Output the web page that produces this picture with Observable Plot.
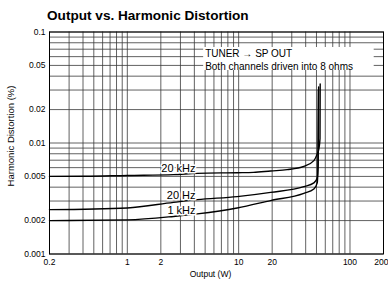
<!DOCTYPE html>
<html>
<head>
<meta charset="utf-8">
<script src="https://cdn.jsdelivr.net/npm/d3@7"></script>
<script src="https://cdn.jsdelivr.net/npm/@observablehq/plot@0.6"></script>
<style>
  html, body { margin: 0; padding: 0; background: #fff; }
  #title { font: bold 13.6px "Liberation Sans", Arial, sans-serif; height: 27px; box-sizing: border-box;
           padding-top: 8px; padding-left: 47px; line-height: 16px; overflow: visible;
           color: #000; white-space: nowrap; }
  svg { display: block; overflow: visible; }
</style>
</head>
<body>
<div id="title">Output vs. Harmonic Distortion</div>
<div id="chart"></div>
<script>
// ---- data ----
const titleText = "Output vs. Harmonic Distortion";
const xLabel = "Output (W)";
const yLabel = "Harmonic Distortion (%)";
const annotation = "TUNER \u2192 SP OUT\nBoth channels driven into 8 ohms";

const xTicks = [0.2, 0.5, 1, 2, 5, 10, 20, 50, 100, 200];
const xTickLabels = ["0.2", "0.5", "1", "2", "5", "10", "20", "50", "100", "200"];
const yTicks = [0.001, 0.002, 0.005, 0.01, 0.02, 0.05, 0.1];
const yTickLabels = ["0.001", "0.002", "0.005", "0.01", "0.02", "0.05", "0.1"];

const xGrid = [0.2, 0.3, 0.4, 0.5, 0.6, 0.7, 0.8, 0.9,
               1, 2, 3, 4, 5, 6, 7, 8, 9,
               10, 20, 30, 40, 50, 60, 70, 80, 90,
               100, 200];
const yGrid = [0.001, 0.002, 0.003, 0.004, 0.005, 0.006, 0.007, 0.008, 0.009,
               0.01, 0.02, 0.03, 0.04, 0.05, 0.06, 0.07, 0.08, 0.09, 0.1];

const seriesNames = ["20 kHz", "20 Hz", "1 kHz"];
const w20k = [0.2, 0.42, 1, 2.6, 4.25, 9.7, 13.6, 19.4, 27.3, 38.5, 47.4, 50.8, 52.5, 53.8, 54];
const d20k = [0.00500, 0.00501, 0.0051, 0.00519, 0.00533, 0.0054, 0.00544, 0.0056, 0.00575, 0.00616, 0.00694, 0.00798, 0.0088, 0.011, 0.034];
const w20 = [0.2, 1, 2.6, 4.25, 9.7, 19.4, 38.5, 47.4, 50.8, 51.8, 52.3];
const d20 = [0.00251, 0.0026, 0.00292, 0.00309, 0.00329, 0.00359, 0.00404, 0.00437, 0.00484, 0.0065, 0.032];
const w1k = [0.2, 1, 2.6, 4.25, 9.7, 19.4, 38.5, 47.4, 50.8, 51.5, 52];
const d1k = [0.0020, 0.00203, 0.00218, 0.0023, 0.0026, 0.00303, 0.00352, 0.00385, 0.00437, 0.006, 0.03];

const labelX = [4.1, 4.1, 4.1];
const labelY = [0.00584, 0.0034, 0.00249];
const annoX = 5;
const annoY = 0.0573;
const annoBoxX = [4.85, 165];
const annoBoxY = [0.045, 0.0725];

// ---- build ----
const rows = [];
[[w20k, d20k], [w20, d20], [w1k, d1k]].forEach(([ws, ds], i) => {
  ws.forEach((w, j) => rows.push({series: seriesNames[i], w, d: ds[j]}));
});
const labels = seriesNames.map((s, i) => ({s, x: labelX[i], y: labelY[i]}));
const fmtX = d => xTickLabels[xTicks.indexOf(d)];
const fmtY = d => yTickLabels[yTicks.indexOf(d)];
const font = "'Liberation Sans', Arial, sans-serif";
const lastTick = xTicks[xTicks.length - 1];

const chart = Plot.plot({
  width: 388,
  height: 254,
  marginTop: 4.5,
  marginBottom: 27.5,
  marginLeft: 49,
  marginRight: 5,
  style: {fontFamily: font, fontSize: "8.5px", color: "#000", background: "#fff", overflow: "visible"},
  x: {type: "log", domain: [0.2, 200]},
  y: {type: "log", domain: [0.001, 0.1]},
  marks: [
    Plot.ruleX(xGrid, {stroke: "#3a3a3a", strokeWidth: 0.8}),
    Plot.ruleY(yGrid, {stroke: "#3a3a3a", strokeWidth: 0.8}),
    Plot.rect([0], {x1: () => annoBoxX[0], x2: () => annoBoxX[1], y1: () => annoBoxY[0], y2: () => annoBoxY[1], fill: "#fff"}),
    Plot.frame({stroke: "#000", strokeWidth: 1}),
    Plot.axisX({ticks: xTicks.slice(0, -1), tickFormat: fmtX, tickSize: 0, tickPadding: 5, label: null, fontSize: 8.5}),
    Plot.axisX({ticks: [lastTick], tickFormat: fmtX, tickSize: 0, tickPadding: 5, label: null, fontSize: 8.5, textAnchor: "end", dx: 5}),
    Plot.axisY({ticks: yTicks, tickFormat: fmtY, tickSize: 0, tickPadding: 4, label: null, fontSize: 8.5}),
    Plot.line(rows, {x: "w", y: "d", z: "series", stroke: "#000", strokeWidth: 1.4, curve: "monotone-x"}),
    Plot.text(labels, {x: "x", y: "y", text: "s", textAnchor: "end", fontSize: 11,
      fill: "#000", stroke: "#fff", strokeWidth: 3, paintOrder: "stroke"}),
    Plot.text([annotation], {x: () => annoX, y: () => annoY, text: d => d, textAnchor: "start",
      lineAnchor: "middle", lineHeight: 1.3, fontSize: 10, fill: "#000",
      fontFamily: "'Liberation Sans', 'DejaVu Sans', sans-serif"}),
    Plot.text([yLabel], {frameAnchor: "left", text: d => d, rotate: -90, dx: -39, dy: -7,
      textAnchor: "middle", lineAnchor: "middle", fontSize: 9.5}),
    Plot.text([xLabel], {frameAnchor: "bottom", text: d => d, dx: -6, dy: 20,
      textAnchor: "middle", lineAnchor: "middle", fontSize: 8.5})
  ]
});
document.getElementById("chart").appendChild(chart);
</script>
</body>
</html>
